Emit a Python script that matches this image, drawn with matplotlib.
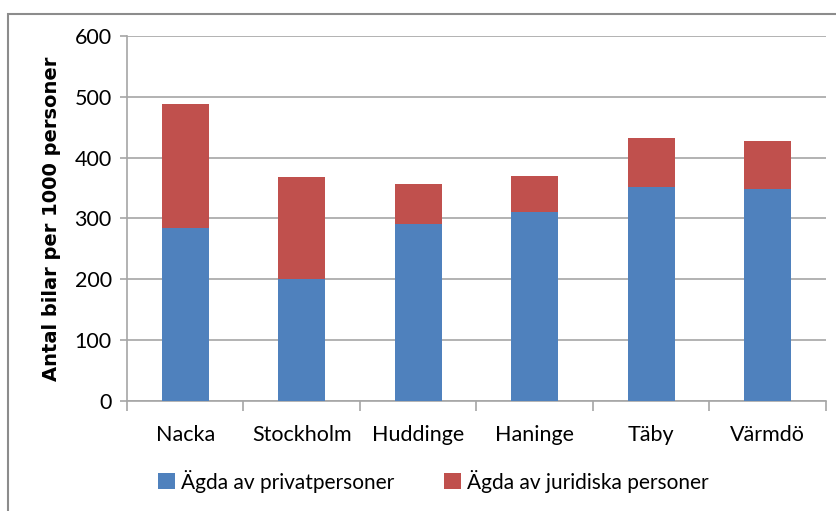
import matplotlib
matplotlib.use("Agg")
import matplotlib.pyplot as plt
from matplotlib.patches import Rectangle

kommuner = ["Nacka", "Stockholm", "Huddinge", "Haninge", "Täby", "Värmdö"]
privat = [285, 201, 291, 311, 352, 349]
juridisk = [203, 167, 66, 59, 81, 78]
serie_namn = ["Ägda av privatpersoner", "Ägda av juridiska personer"]

blue = "#4F81BD"
red = "#C0504D"
grid_col = "#A6A6A6"

plt.rcParams['font.family'] = ['Lato', 'DejaVu Sans']

fig = plt.figure(figsize=(8.37, 5.11), dpi=100)
ax = fig.add_axes([127 / 837, 1 - 401 / 511, 699 / 837, 365 / 511])

x = range(len(kommuner))
b1 = ax.bar(x, privat, width=0.4, color=blue, label=serie_namn[0], zorder=3)
b2 = ax.bar(x, juridisk, width=0.4, bottom=privat, color=red, label=serie_namn[1], zorder=3)

ax.set_xlim(-0.5, len(kommuner) - 0.5)
ax.set_ylim(0, 600)
ax.set_yticks(range(0, 601, 100))
ax.yaxis.grid(True, color=grid_col, linewidth=1.2, zorder=0)
ax.set_axisbelow(True)

ax.set_xticks(list(x))
ax.set_xticklabels(kommuner, fontsize=15.5)
ax.set_xticks([i - 0.5 for i in range(len(kommuner) + 1)], minor=True)
ax.tick_params(axis='x', which='major', length=0, pad=17)
ax.tick_params(axis='x', which='minor', length=7, color=grid_col, width=1.2)
ax.tick_params(axis='y', length=5, color=grid_col, width=1.2, labelsize=15.5, pad=6)

for s in ["top", "right"]:
    ax.spines[s].set_visible(False)
for s in ["left", "bottom"]:
    ax.spines[s].set_color(grid_col)
    ax.spines[s].set_linewidth(1.2)

ax.set_ylabel("Antal bilar per 1000 personer", fontsize=14, fontweight='bold',
              family='DejaVu Sans', labelpad=10)

fig.legend(handles=[b1, b2], loc='center', bbox_to_anchor=(0.518, 1 - 481 / 511),
           ncol=2, frameon=False, fontsize=15, handlelength=0.8, handleheight=0.8,
           handletextpad=0.3, columnspacing=2.4)

# grå ram runt diagrammet
fig.patches.append(Rectangle((8 / 837, -0.01), 1.0, 1 - 14 / 511 + 0.01,
                             transform=fig.transFigure, fill=False,
                             edgecolor="#8C8C8C", linewidth=1.5))

fig.savefig("out.png", dpi=100)
